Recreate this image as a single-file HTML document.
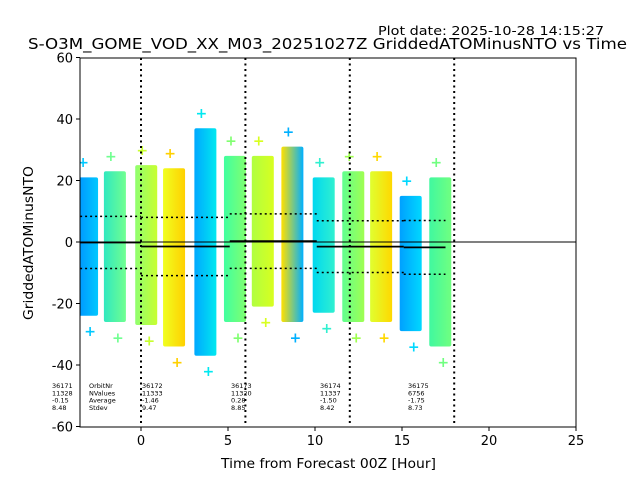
<!DOCTYPE html>
<html><head><meta charset="utf-8"><style>
body{margin:0;background:#fff;}
svg{display:block;font-family:"DejaVu Sans","Liberation Sans",sans-serif;}
</style></head><body>
<svg id="c" width="640" height="480">
<text x="378" y="35" font-size="12" textLength="226" lengthAdjust="spacingAndGlyphs">Plot date: 2025-10-28 14:15:27</text>
<text x="28" y="49" font-size="15" textLength="599" lengthAdjust="spacingAndGlyphs">S-O3M_GOME_VOD_XX_M03_20251027Z GriddedATOMinusNTO vs Time</text>
<text x="221" y="468" font-size="13" textLength="215" lengthAdjust="spacingAndGlyphs">Time from Forecast 00Z [Hour]</text>
<text transform="translate(33,320) rotate(-90)" font-size="13" textLength="154" lengthAdjust="spacingAndGlyphs">GriddedATOMinusNTO</text>
<defs><clipPath id="pc"><rect x="80" y="58" width="496" height="369"/></clipPath></defs>
<g id="marks" clip-path="url(#pc)"></g>
<g id="axes"></g>
</svg>
<script>
const colX=[-3.1,-1.5,0.3,1.9,3.7,5.4,7.0,8.7,10.5,12.2,13.8,15.5,17.2];
const colTop=[21,23,25,24,37,28,28,31,21,23,23,15,21];
const colBot=[-24,-26,-27,-34,-37,-26,-21,-26,-23,-26,-26,-29,-34];
const colC1=["#0090ff","#30e8c0","#90ff70","#f0ff20","#00a8ff","#40ffa0","#b0ff40","#ffe000","#00d8f0","#60ff90","#e0ff30","#00a0ff","#40f8a0"];
const colC2=["#00c8ff","#70ff90","#c8ff30","#ffd000","#00e8f0","#80ff70","#d8ff20","#00b0ff","#30f0d0","#a0ff50","#ffd800","#00d8ff","#70ff80"];
const segStart=[-3.5,0,5.1,10.1,15.1];
const segEnd=[0,5.1,10.1,15.1,17.5];
const segMean=[-0.15,-1.46,0.28,-1.50,-1.75];
const segStd=[8.48,9.47,8.85,8.42,8.73];
const orbit=["36171","36172","36173","36174","36175"];
const nval=["11328","11333","11320","11337","6756"];
const xTicks=[0,5,10,15,20,25];
const yTicks=[-60,-40,-20,0,20,40,60];
const vLines=[0,6,12,18];
const X=v=>141+v*17.4, Y=v=>242-v*3.075;
const NS="http://www.w3.org/2000/svg";
function mk(t,a,p){const e=document.createElementNS(NS,t);for(const k in a)e.setAttribute(k,a[k]);p.appendChild(e);return e;}
const svg=document.getElementById('c'),marks=document.getElementById('marks'),axes=document.getElementById('axes');
const defs=svg.querySelector('defs');
colX.forEach((x,i)=>{
  const g=mk('linearGradient',{id:'g'+i,x1:'0',x2:'1',y1:'0',y2:'0'},defs);
  mk('stop',{offset:'0',"stop-color":colC1[i]},g);mk('stop',{offset:'1',"stop-color":colC2[i]},g);
  const r=mk('rect',{x:X(x)-11,y:Y(colTop[i]),width:22,height:Y(colBot[i])-Y(colTop[i]),rx:2,fill:'url(#g'+i+')'},marks);
  
  
  [[colTop[i]+5,-4],[colBot[i]-5,3]].forEach(([v,dx])=>{
    const t=mk('text',{x:X(x)+dx,y:Y(v)+5,"font-size":14,"font-weight":"bold","text-anchor":"middle",fill:colC2[i]},marks);t.textContent='+';
    
    
  });
});
mk('line',{x1:80,x2:576,y1:Y(0),y2:Y(0),stroke:'#000','stroke-width':1},marks);
segStart.forEach((s,i)=>{
  const l=mk('line',{x1:X(s),x2:X(segEnd[i]),y1:Y(segMean[i]),y2:Y(segMean[i]),stroke:'#000','stroke-width':1.8},marks);
  
  
  [1,-1].forEach(sg=>{
    const d=mk('line',{x1:X(s),x2:X(segEnd[i]),y1:Y(segMean[i]+sg*segStd[i]),y2:Y(segMean[i]+sg*segStd[i]),stroke:'#000','stroke-width':1.5,'stroke-dasharray':'2,3'},marks);
    
    
  });
});
vLines.forEach(v=>{
  const l=mk('line',{x1:X(v),x2:X(v),y1:58,y2:427,stroke:'#000','stroke-width':2,'stroke-dasharray':'2,3.5'},marks);
  
  
});
const fr=mk('rect',{x:80,y:58,width:496,height:369,fill:'none',stroke:'#000','stroke-width':1},axes);


xTicks.forEach(v=>{
  mk('line',{x1:X(v),x2:X(v),y1:427,y2:431,stroke:'#000'},axes);
  const t=mk('text',{x:X(v),y:445,"font-size":13,"text-anchor":"middle"},axes);t.textContent=v;
  
  
});
yTicks.forEach(v=>{
  mk('line',{x1:76,x2:80,y1:Y(v),y2:Y(v),stroke:'#000'},axes);
  const t=mk('text',{x:73,y:Y(v)+5,"font-size":13,"text-anchor":"end"},axes);t.textContent=v;
  
  
});
const annX=[52,142,231,320,408];
orbit.forEach((o,i)=>{
  const vals=[o,nval[i],segMean[i].toFixed(2),segStd[i].toFixed(2)];
  vals.forEach((s,j)=>{
    const t=mk('text',{x:annX[i],y:388+j*7.3,"font-size":6.5},axes);t.textContent=s;
    
    
  });
});
["OrbitNr","NValues","Average","Stdev"].forEach((s,j)=>{
  const t=mk('text',{x:89,y:388+j*7.3,"font-size":6.5},axes);t.textContent=s;
  
  
});
</script>
</body></html>
